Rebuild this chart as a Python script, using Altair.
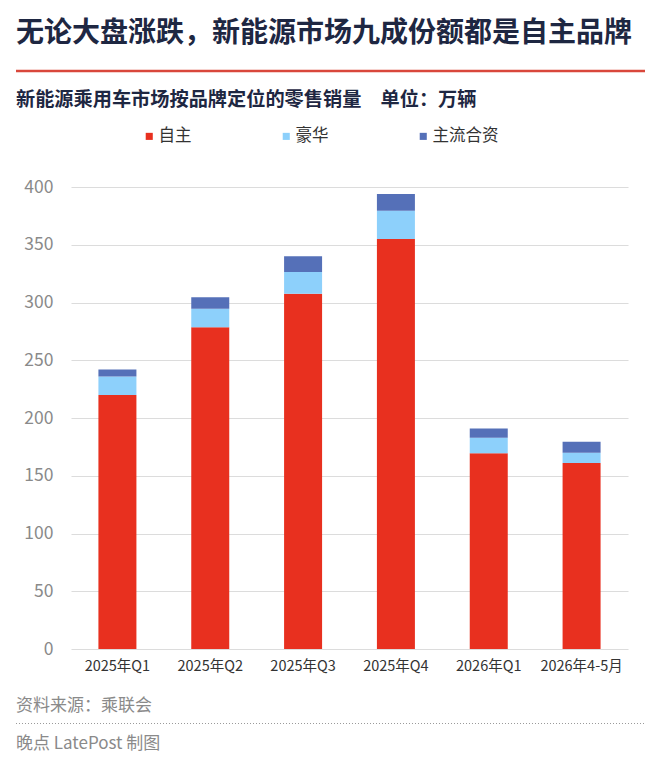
import altair as alt
import pandas as pd

periods = ["2025年Q1", "2025年Q2", "2025年Q3", "2025年Q4", "2026年Q1", "2026年4-5月"]
series = ["自主", "豪华", "主流合资"]
own = [220, 278.5, 307.5, 355, 169.5, 161]
luxury = [16, 16, 19, 24.5, 13.5, 9]
jv = [6, 10, 13.5, 14.5, 8, 9.5]
colors = ["#e8301f", "#8dd0fb", "#5570b8"]

title_text = "无论大盘涨跌，新能源市场九成份额都是自主品牌"
subtitle_text = "新能源乘用车市场按品牌定位的零售销量\u3000单位：万辆"
source_text = "资料来源：乘联会"
credit_text = "晚点 LatePost 制图"

rows = []
for i, p in enumerate(periods):
    for j, (s, vals) in enumerate(zip(series, [own, luxury, jv])):
        rows.append({"period": p, "series": s, "value": vals[i], "ord": j})
df = pd.DataFrame(rows)

FONT = "Noto Sans CJK SC"
LEFT = -55  # x of the text column relative to the plot area
one = pd.DataFrame({"a": [0]})

bars = alt.Chart(df).mark_bar(size=38).encode(
    x=alt.X("period:N", sort=periods, title=None,
            axis=alt.Axis(labelAngle=0, labelFontSize=14.5, labelColor="#333333",
                          labelFont=FONT, labelPadding=10, ticks=False, domain=False)),
    y=alt.Y("value:Q", stack="zero", title=None,
            scale=alt.Scale(domain=[0, 400]),
            axis=alt.Axis(values=list(range(0, 401, 50)), labelFontSize=17.5,
                          labelColor="#8a8a8a", labelFont=FONT, labelPadding=18,
                          ticks=False, domain=False, gridColor="#dcdcdc", gridWidth=1.2)),
    color=alt.Color("series:N", sort=series,
                    scale=alt.Scale(domain=series, range=colors),
                    legend=alt.Legend(title=None, orient="none", direction="horizontal",
                                      legendX=70, legendY=-59, padding=0,
                                      symbolType="square",
                                      symbolSize=50, symbolStrokeWidth=0,
                                      labelFontSize=16.5, labelColor="#333333",
                                      labelFont=FONT, columnPadding=86, labelOffset=1)),
    order=alt.Order("ord:Q"),
)

def label(text, y, size, color, weight="normal"):
    return alt.Chart(pd.DataFrame({"t": [text]})).mark_text(
        align="left", baseline="middle", fontSize=size, color=color, font=FONT,
        fontWeight=weight
    ).encode(text="t:N", x=alt.value(LEFT), y=alt.value(y))

title = label(title_text, 34 - 187, 28, "#1e2742", "bold")
subtitle = label(subtitle_text, 99.5 - 187, 19.2, "#1e2742", "bold")
source = label(source_text, 705.5 - 187, 17, "#8a8a8a")
credit = label(credit_text, 744 - 187, 17, "#8a8a8a")

red_line = alt.Chart(one).mark_rule(color="#d9473b", strokeWidth=2.5).encode(
    x=alt.value(LEFT), x2=alt.value(645 - 71), y=alt.value(71 - 187)
)
dot_line = alt.Chart(one).mark_rule(color="#9a9a9a", strokeWidth=1, strokeDash=[1, 2]).encode(
    x=alt.value(LEFT), x2=alt.value(645 - 71), y=alt.value(723.5 - 187)
)

chart = alt.layer(bars, red_line, dot_line, title, subtitle, source, credit).properties(
    width=557, height=462,
    padding={"left": 63, "top": 179, "right": 24, "bottom": 104},
    autosize=alt.AutoSizeParams(type="none"),
).configure_view(stroke=None)

chart.save("out.html", embed_options={"renderer": "svg", "actions": False})
